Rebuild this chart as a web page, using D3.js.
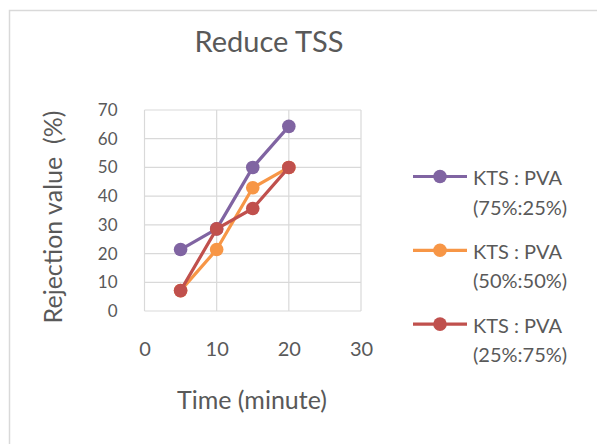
<!DOCTYPE html>
<html>
<head>
<meta charset="utf-8">
<script src="https://cdn.jsdelivr.net/npm/d3@7"></script>
<style>
  html, body { margin: 0; padding: 0; background: #fff; }
  svg { display: block; }
  text { font-family: Lato, "Open Sans", sans-serif; fill: #595959; }
</style>
</head>
<body>
<svg id="chart" width="597" height="444"></svg>
<script>
// Rejection of TSS over time for three KTS : PVA blend ratios
const times = [5, 10, 15, 20];
const seriesNames = ["KTS : PVA|(75%:25%)", "KTS : PVA|(50%:50%)", "KTS : PVA|(25%:75%)"];
const blend75 = [21.4, 28.6, 50, 64.3];
const blend50 = [7.1, 21.4, 42.9, 50];
const blend25 = [7.1, 28.6, 35.7, 50];
const seriesColors = ["#8064a2", "#f79646", "#c0504d"];
const xTicks = [0, 10, 20, 30];
const yTicks = [0, 10, 20, 30, 40, 50, 60, 70];

const series = [blend75, blend50, blend25].map((vals, i) => ({
  name: seriesNames[i],
  color: seriesColors[i],
  points: vals.map((v, j) => ({ t: times[j], v }))
}));

const svg = d3.select("#chart");
const grid = "#d9d9d9";

// chart area frame
svg.append("rect")
  .attr("x", 9.5).attr("y", 10.5)
  .attr("width", 700).attr("height", 600)
  .attr("fill", "#fff").attr("stroke", grid).attr("stroke-width", 1.5);

const x = d3.scaleLinear().domain([0, 30]).range([144.5, 361]);
const y = d3.scaleLinear().domain([0, 70]).range([311, 110]);

// gridlines
const g = svg.append("g");
g.selectAll(".hg").data(yTicks).join("line")
  .attr("x1", x(0)).attr("x2", x(30))
  .attr("y1", d => y(d)).attr("y2", d => y(d))
  .attr("stroke", grid).attr("stroke-width", 1.2);
g.selectAll(".vg").data(xTicks).join("line")
  .attr("y1", y(0)).attr("y2", y(70))
  .attr("x1", d => x(d)).attr("x2", d => x(d))
  .attr("stroke", grid).attr("stroke-width", 1.2);

// axes (labels only; rules are drawn by the grid)
const yAxis = svg.append("g").attr("transform", `translate(${x(0)},0)`)
  .call(d3.axisLeft(y).tickValues(yTicks).tickSize(0).tickPadding(27));
yAxis.select(".domain").remove();
yAxis.selectAll("text").style("font-size", "17px").attr("fill", "#595959");

const xAxis = svg.append("g").attr("transform", `translate(0,${y(0)})`)
  .call(d3.axisBottom(x).tickValues(xTicks).tickSize(0).tickPadding(31));
xAxis.select(".domain").remove();
xAxis.selectAll("text").style("font-size", "20px").attr("fill", "#595959");

// title and axis titles
svg.append("text").attr("x", 269).attr("y", 52)
  .attr("text-anchor", "middle").style("font-size", "29px")
  .text("Reduce TSS");
svg.append("text").attr("x", 252).attr("y", 409)
  .attr("text-anchor", "middle").style("font-size", "25px")
  .text("Time (minute)");
svg.append("text")
  .attr("transform", "translate(62,217) rotate(-90)")
  .attr("text-anchor", "middle").style("font-size", "25px")
  .style("white-space", "pre")
  .text("Rejection value  (%)");

// series lines and markers
const line = d3.line().x(d => x(d.t)).y(d => y(d.v));
series.forEach(s => {
  const sg = svg.append("g");
  sg.append("path").datum(s.points)
    .attr("d", line).attr("fill", "none")
    .attr("stroke", s.color).attr("stroke-width", 3.2)
    .attr("stroke-linejoin", "round");
  sg.selectAll("circle").data(s.points).join("circle")
    .attr("cx", d => x(d.t)).attr("cy", d => y(d.v))
    .attr("r", 6.8).attr("fill", s.color);
});

// legend
const legend = svg.append("g");
series.forEach((s, i) => {
  const ly = 176.5 + i * 73.8;
  const lg = legend.append("g");
  lg.append("line").attr("x1", 413).attr("x2", 467)
    .attr("y1", ly).attr("y2", ly)
    .attr("stroke", s.color).attr("stroke-width", 3.2);
  lg.append("circle").attr("cx", 440).attr("cy", ly).attr("r", 6.8).attr("fill", s.color);
  const [l1, l2] = s.name.split("|");
  lg.append("text").attr("x", 473).attr("y", ly + 8.5).style("font-size", "20px").text(l1);
  lg.append("text").attr("x", 473).attr("y", ly + 38).style("font-size", "20px").text(l2);
});
</script>
</body>
</html>
